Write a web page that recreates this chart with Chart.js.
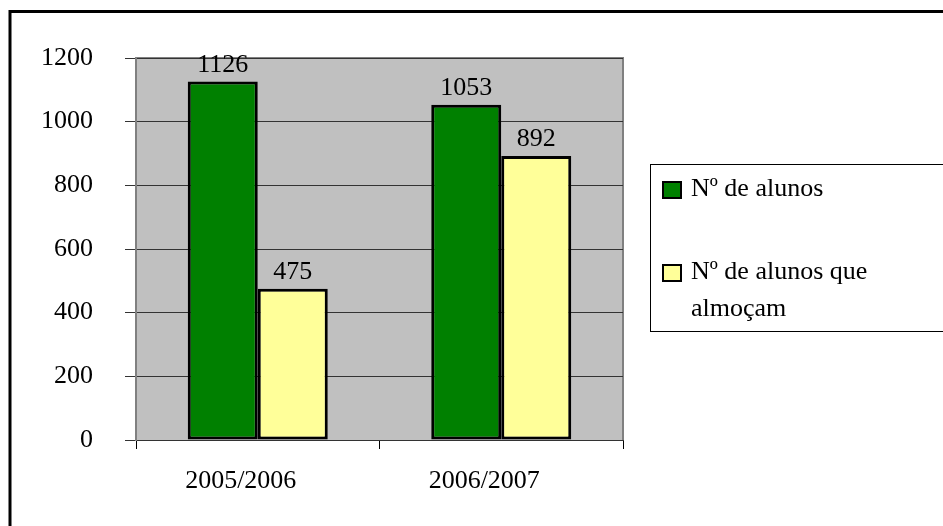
<!DOCTYPE html>
<html>
<head>
<meta charset="utf-8">
<script src="https://cdn.jsdelivr.net/npm/chart.js@4/dist/chart.umd.min.js"></script>
<style>
  html, body { margin: 0; padding: 0; background: #fff; }
  #wrap { width: 943px; height: 526px; position: relative; }
</style>
</head>
<body>
<div id="wrap"><canvas id="c" width="943" height="526"></canvas></div>
<script>
const categories = ["2005/2006", "2006/2007"];
const seriesNames = ["Nº de alunos", "Nº de alunos que almoçam"];
const alunos = [1126, 1053];
const almocam = [475, 892];
const yTicks = [0, 200, 400, 600, 800, 1000, 1200];

const FONT = "'Liberation Serif', 'Times New Roman', serif";
const FS = 26;

const framePlugin = {
  id: 'frame',
  beforeDraw(chart) {
    const ctx = chart.ctx, a = chart.chartArea;
    ctx.save();
    ctx.fillStyle = '#fff';
    ctx.fillRect(0, 0, chart.width, chart.height);
    ctx.strokeStyle = '#000';
    ctx.lineWidth = 3;
    ctx.beginPath();
    ctx.moveTo(10, chart.height + 5);
    ctx.lineTo(10, 11.5);
    ctx.lineTo(chart.width + 5, 11.5);
    ctx.stroke();
    ctx.fillStyle = '#c0c0c0';
    ctx.fillRect(a.left, a.top, a.right - a.left, a.bottom - a.top);
    ctx.strokeStyle = '#808080';
    ctx.lineWidth = 2;
    ctx.beginPath();
    ctx.moveTo(a.left, a.top);
    ctx.lineTo(a.right, a.top);
    ctx.lineTo(a.right, a.bottom);
    ctx.stroke();
    ctx.restore();
  },
  afterDatasetsDraw(chart) {
    const ctx = chart.ctx;
    ctx.save();
    ctx.font = FS + 'px ' + FONT;
    ctx.fillStyle = '#000';
    ctx.textAlign = 'center';
    ctx.textBaseline = 'alphabetic';
    chart.data.datasets.forEach((ds, i) => {
      const meta = chart.getDatasetMeta(i);
      meta.data.forEach((el, j) => {
        ctx.fillText(String(ds.data[j]), el.x, el.y - 10);
      });
    });
    ctx.restore();
  },
  afterDraw(chart) {
    const ctx = chart.ctx;
    ctx.save();
    ctx.fillStyle = '#fff';
    ctx.fillRect(650.5, 164.5, 400, 167);
    ctx.strokeStyle = '#000';
    ctx.lineWidth = 1;
    ctx.strokeRect(650.5, 164.5, 400, 167);
    ctx.font = FS + 'px ' + FONT;
    ctx.textAlign = 'left';
    ctx.textBaseline = 'alphabetic';
    const baselines = [196, 279];
    const lineH = 37;
    const maxW = 240;
    chart.data.datasets.forEach((ds, i) => {
      const by = baselines[i];
      ctx.fillStyle = ds.backgroundColor;
      ctx.fillRect(663, by - 14, 18, 16);
      ctx.strokeStyle = '#000';
      ctx.lineWidth = 2;
      ctx.strokeRect(663, by - 14, 18, 16);
      const words = ds.label.split(' ');
      const lines = [];
      let cur = '';
      words.forEach(w => {
        const t = cur ? cur + ' ' + w : w;
        if (ctx.measureText(t).width > maxW && cur) { lines.push(cur); cur = w; }
        else cur = t;
      });
      if (cur) lines.push(cur);
      ctx.fillStyle = '#000';
      lines.forEach((ln, k) => ctx.fillText(ln, 691, by + k * lineH));
    });
    ctx.restore();
  }
};

new Chart(document.getElementById('c'), {
  type: 'bar',
  data: {
    labels: categories,
    datasets: [
      { label: seriesNames[0], data: alunos, backgroundColor: '#008000', borderColor: '#000', borderWidth: 3, borderSkipped: false },
      { label: seriesNames[1], data: almocam, backgroundColor: '#ffff99', borderColor: '#000', borderWidth: 3, borderSkipped: false }
    ]
  },
  options: {
    responsive: false,
    animation: false,
    devicePixelRatio: 1,
    layout: { padding: { left: 0, top: 58, right: 320, bottom: 0 } },
    datasets: { bar: { categoryPercentage: 0.575, barPercentage: 1.0 } },
    plugins: { legend: { display: false }, tooltip: { enabled: false } },
    scales: {
      x: {
        afterFit(s) { s.height = 86; },
        grid: { offset: true, drawOnChartArea: false, drawTicks: true, tickLength: 9, tickColor: '#000', tickWidth: 1 },
        border: { color: '#333', width: 1 },
        ticks: { color: '#000', font: { family: FONT, size: FS }, padding: 17, labelOffset: -17, maxRotation: 0 }
      },
      y: {
        min: 0, max: 1200,
        afterFit(s) { s.width = 136; },
        afterBuildTicks(s) { s.ticks = yTicks.map(v => ({ value: v })); },
        grid: { color: '#333', lineWidth: 1, tickLength: 11, tickColor: '#333' },
        border: { color: '#808080', width: 2 },
        ticks: { color: '#000', font: { family: FONT, size: FS }, padding: 32, callback: v => String(v) }
      }
    }
  },
  plugins: [framePlugin]
});
</script>
</body>
</html>
